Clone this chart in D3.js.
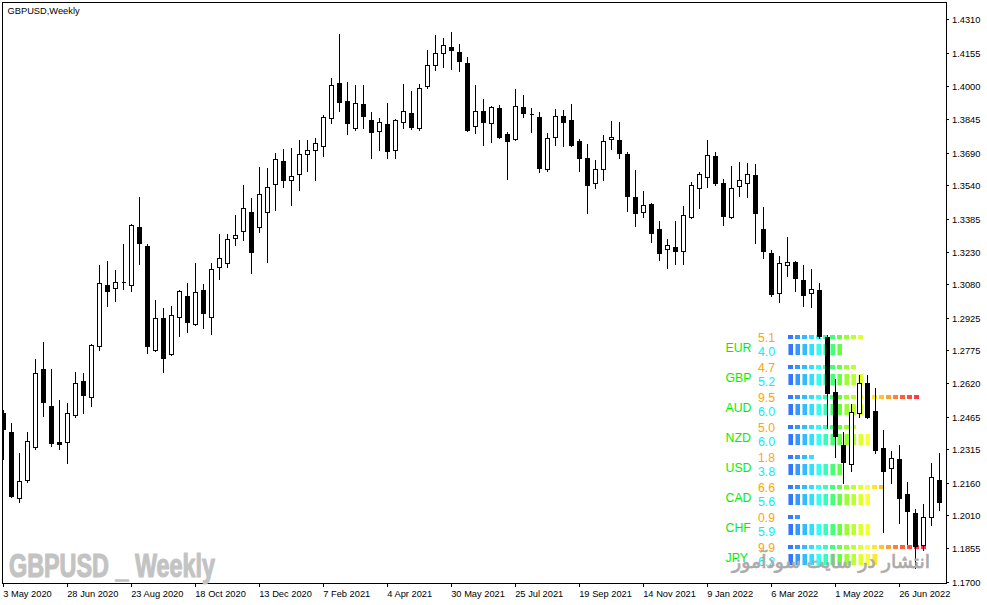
<!DOCTYPE html>
<html><head><meta charset="utf-8">
<script src="https://cdn.jsdelivr.net/npm/d3@7"></script>
<style>html,body{margin:0;padding:0;background:#fff;overflow:hidden}</style>
</head><body><svg id="c" width="987" height="605"></svg>
<script>
// ---- data (GBPUSD weekly, one entry per week starting 3 May 2020) ----
const opens = [1.2483,1.2395,1.2089,1.2172,1.2326,1.2687,1.2516,1.2349,1.2349,1.2474,
1.2632,1.2558,1.2794,1.3077,1.3063,1.3090,1.3077,1.3346,1.3258,1.2776,
1.2924,1.2757,1.2929,1.3026,1.2896,1.3054,1.2929,1.3161,1.3179,1.3295,
1.3328,1.3416,1.3346,1.3416,1.3546,1.3653,1.3564,1.3592,1.3685,1.3704,
1.3722,1.3852,1.4014,1.3931,1.3806,1.3917,1.3843,1.3792,1.3824,1.3704,
1.3834,1.3875,1.3806,1.4001,1.4098,1.4154,1.4182,1.4158,1.4107,1.3815,
1.3885,1.3829,1.3898,1.3778,1.3755,1.3903,1.3871,1.3857,1.3615,1.3764,
1.3861,1.3843,1.3745,1.3666,1.3550,1.3615,1.3755,1.3750,1.3685,1.3486,
1.3416,1.3453,1.3337,1.3244,1.3254,1.3235,1.3393,1.3527,1.3578,1.3676,
1.3550,1.3393,1.3537,1.3550,1.3588,1.3337,1.3226,1.3040,1.3170,1.3184,
1.3100,1.3040,1.3054,1.2836,1.2581,1.2335,1.2247,1.2485,1.2622,1.2493,
1.2321,1.2228,1.2270,1.2107,1.2019,1.1871,1.2001,1.2172];
const highs = [1.2497,1.2437,1.2298,1.2395,1.2734,1.2813,1.2687,1.2544,1.2530,1.2674,
1.2669,1.2802,1.3170,1.3189,1.3147,1.3267,1.3360,1.3486,1.3267,1.3008,
1.2970,1.2980,1.3052,1.3086,1.3179,1.3082,1.3179,1.3314,1.3314,1.3402,
1.3541,1.3481,1.3625,1.3619,1.3690,1.3708,1.3713,1.3750,1.3750,1.3759,
1.3866,1.4038,1.4242,1.4019,1.4005,1.4005,1.3880,1.3852,1.3922,1.3846,
1.4010,1.3977,1.4010,1.4168,1.4237,1.4223,1.4251,1.4195,1.4135,1.4005,
1.3940,1.3906,1.3912,1.3787,1.3987,1.3959,1.3898,1.3880,1.3782,1.3894,
1.3889,1.3917,1.3755,1.3731,1.3657,1.3773,1.3838,1.3834,1.3694,1.3611,
1.3513,1.3458,1.3374,1.3291,1.3374,1.3444,1.3555,1.3602,1.3750,1.3694,
1.3569,1.3629,1.3648,1.3643,1.3639,1.3439,1.3240,1.3212,1.3300,1.3186,
1.3170,1.3151,1.3086,1.2845,1.2641,1.2395,1.2525,1.2660,1.2660,1.2599,
1.2405,1.2305,1.2335,1.2163,1.2038,1.2061,1.2251,1.2298];
const lows = [1.2270,1.2094,1.2070,1.2163,1.2316,1.2469,1.2330,1.2316,1.2251,1.2465,
1.2483,1.2516,1.2776,1.2980,1.3003,1.3059,1.3049,1.3175,1.2762,1.2771,
1.2674,1.2752,1.2841,1.2859,1.2892,1.2878,1.2850,1.3105,1.3161,1.3263,
1.3286,1.3133,1.3323,1.3184,1.3425,1.3532,1.3448,1.3518,1.3606,1.3564,
1.3676,1.3829,1.3885,1.3778,1.3796,1.3806,1.3666,1.3704,1.3666,1.3666,
1.3806,1.3801,1.3796,1.3991,1.4075,1.4089,1.4079,1.4070,1.3792,1.3782,
1.3727,1.3741,1.3759,1.3569,1.3750,1.3857,1.3787,1.3602,1.3606,1.3727,
1.3722,1.3722,1.3606,1.3411,1.3527,1.3564,1.3708,1.3666,1.3421,1.3351,
1.3393,1.3277,1.3193,1.3156,1.3175,1.3175,1.3388,1.3435,1.3532,1.3541,
1.3356,1.3388,1.3490,1.3486,1.3272,1.3202,1.3026,1.2998,1.3119,1.3049,
1.2980,1.2975,1.2831,1.2414,1.2279,1.2158,1.2214,1.2465,1.2460,1.2298,
1.1931,1.2158,1.1973,1.1875,1.1764,1.1848,1.1964,1.2033];
const closes = [1.2409,1.2098,1.2168,1.2353,1.2669,1.2534,1.2344,1.2340,1.2483,1.2622,
1.2567,1.2799,1.3086,1.3049,1.3091,1.3093,1.3356,1.3272,1.2794,1.2924,
1.2738,1.2938,1.3049,1.2906,1.3045,1.2947,1.3151,1.3202,1.3291,1.3309,
1.3435,1.3230,1.3499,1.3532,1.3662,1.3564,1.3583,1.3685,1.3704,1.3736,
1.3857,1.4005,1.3926,1.3829,1.3922,1.3861,1.3787,1.3834,1.3699,1.3843,
1.3885,1.3810,1.3991,1.4098,1.4154,1.4191,1.4168,1.4117,1.3796,1.3885,
1.3834,1.3903,1.3764,1.3745,1.3908,1.3875,1.3869,1.3619,1.3759,1.3861,
1.3834,1.3727,1.3666,1.3541,1.3615,1.3745,1.3764,1.3690,1.3490,1.3411,
1.3448,1.3318,1.3226,1.3263,1.3235,1.3402,1.3541,1.3592,1.3680,1.3550,
1.3397,1.3527,1.3564,1.3592,1.3411,1.3235,1.3035,1.3179,1.3184,1.3110,
1.3031,1.3059,1.2841,1.2576,1.2377,1.2256,1.2488,1.2622,1.2465,1.2312,
1.2214,1.2274,1.2089,1.2029,1.1866,1.2001,1.2186,1.2070];

const dateTickIndex = [0,8,16,24,32,40,48,56,64,72,80,88,96,104,112];
const dateTickLabels = ["3 May 2020","28 Jun 2020","23 Aug 2020","18 Oct 2020","13 Dec 2020",
"7 Feb 2021","4 Apr 2021","30 May 2021","25 Jul 2021","19 Sep 2021","14 Nov 2021",
"9 Jan 2022","6 Mar 2022","1 May 2022","26 Jun 2022"];
const priceTicks = [1.4310,1.4155,1.4000,1.3845,1.3690,1.3540,1.3385,1.3230,1.3080,
1.2925,1.2775,1.2620,1.2465,1.2315,1.2160,1.2010,1.1855,1.1700];

const currencies = ["EUR","GBP","AUD","NZD","USD","CAD","CHF","JPY"];
const strengthTop = [5.1,4.7,9.5,5.0,1.8,6.6,0.9,9.9];
const strengthBottom = [4.0,5.2,6.0,6.0,3.8,5.6,5.9,6.2];

// ---- styles ----
const segColors = ["#3377FF","#3399FF","#33BBFF","#33DDFF","#33FFF0","#33FFBB","#44FF77","#66FF44",
"#99FF33","#BBFF33","#DDFF33","#F8FF33","#FFE633","#FFC233","#FFA033","#FF8033","#FF6033",
"#FF4A40","#FF3A48","#FF3358"];
const smallFont = "Liberation Sans, Arial, sans-serif";

const svg = d3.select("#c");
svg.append("rect").attr("width",987).attr("height",605).attr("fill","#fff");

const n = opens.length;
const x = d3.scaleLinear().domain([0, n-1]).range([3, 3 + 8*(n-1)]);
const y = d3.scaleLinear().domain([1.1700, 1.4310]).range([581.7, 19.3]);
const yr = y.copy().interpolate(d3.interpolateRound);

// clip
svg.append("clipPath").attr("id","plot").append("rect")
  .attr("x",3).attr("y",3).attr("width",943).attr("height",580);

// ---- strength panel (behind candles) ----
const seg = d3.scaleLinear().domain([0,10]).range([0,20]);
const panel = svg.append("g");
currencies.forEach((c,k)=>{
  const rowY = 30*k;
  panel.append("text").attr("x",725.5).attr("y",352.3+rowY)
    .attr("font-family",smallFont).attr("font-size","12.3px").attr("fill","#00F000").text(c);
  panel.append("text").attr("x",758).attr("y",341.7+rowY)
    .attr("font-family",smallFont).attr("font-size","12.3px").attr("fill","#FFA500")
    .text(strengthTop[k].toFixed(1));
  panel.append("text").attr("x",758).attr("y",355.7+rowY)
    .attr("font-family",smallFont).attr("font-size","12.3px").attr("fill","#00F0FF")
    .text(strengthBottom[k].toFixed(1));
  const nTop = Math.ceil(seg(strengthTop[k]) - 1e-9);
  const nBot = Math.ceil(seg(strengthBottom[k]) - 1e-9);
  panel.selectAll(null).data(d3.range(nTop)).enter().append("rect")
    .attr("x",j=>788+7*j).attr("y",335+rowY).attr("width",5).attr("height",4)
    .attr("fill",j=>segColors[j]).attr("shape-rendering","crispEdges");
  panel.selectAll(null).data(d3.range(nBot)).enter().append("rect")
    .attr("x",j=>788+7*j).attr("y",344+rowY).attr("width",5).attr("height",11)
    .attr("fill",j=>segColors[j]).attr("shape-rendering","crispEdges");
  panel.selectAll(null).data(d3.range(nBot)).enter().append("rect")
    .attr("x",j=>788+7*j).attr("y",344+rowY).attr("width",1).attr("height",11)
    .attr("fill",j=>d3.interpolateRgb(segColors[j],"#ffffff")(0.45)).attr("shape-rendering","crispEdges");
});

// ---- candles ----
const cg = svg.append("g").attr("clip-path","url(#plot)");
const idx = d3.range(n);
cg.selectAll("line.w").data(idx).enter().append("line")
  .attr("x1",i=>x(i)+0.5).attr("x2",i=>x(i)+0.5)
  .attr("y1",i=>yr(highs[i])).attr("y2",i=>yr(lows[i])+1)
  .attr("stroke","#000").attr("stroke-width",1).attr("shape-rendering","crispEdges");
cg.selectAll("path.b").data(idx).enter().append("path")
  .attr("d",i=>{
    const top = yr(Math.max(opens[i],closes[i]));
    const bot = yr(Math.min(opens[i],closes[i]));
    return `M${x(i)-1.5},${top+0.5}h4v${bot-top}h-4z`;
  })
  .attr("fill",i=>closes[i]>=opens[i]?"#fff":"#000")
  .attr("stroke","#000").attr("stroke-width",1).attr("shape-rendering","crispEdges");

// ---- frame ----
svg.append("rect").attr("x",2.5).attr("y",2.5).attr("width",944).attr("height",581)
  .attr("fill","none").attr("stroke","#000").attr("shape-rendering","crispEdges");

// ---- price axis ----
const ya = svg.append("g").attr("transform","translate(946,0)")
  .call(d3.axisRight(yr).tickValues(priceTicks).tickSize(3).tickPadding(3)
    .tickFormat(d3.format(".4f")));
ya.select(".domain").remove();
ya.selectAll("line").attr("stroke","#000").attr("shape-rendering","crispEdges");
ya.selectAll("text").attr("font-family",smallFont).attr("font-size","9.3px").attr("fill","#000")
  .attr("x",6).attr("dy","0.35em");

// ---- time axis ----
const xa = svg.append("g").attr("transform","translate(0,583)")
  .call(d3.axisBottom(x).tickValues(dateTickIndex).tickSize(4).tickFormat((d,i)=>dateTickLabels[i]));
xa.select(".domain").remove();
xa.selectAll("line").attr("stroke","#000").attr("shape-rendering","crispEdges");
xa.selectAll("text").attr("font-family",smallFont).attr("font-size","9.3px").attr("fill","#000")
  .attr("text-anchor","start").attr("x",-0.3).attr("y",14).attr("dy",0);

// ---- title ----
svg.append("text").attr("x",7.5).attr("y",14.3).attr("font-family",smallFont)
  .attr("font-size","9.3px").attr("fill","#000").text("GBPUSD,Weekly");

// ---- watermarks ----
svg.append("text").attr("x",9).attr("y",576.7)
  .attr("font-family","Liberation Sans Narrow, Liberation Sans, Arial, sans-serif")
  .attr("font-weight","bold").attr("font-size","33px").attr("fill","#C3C3C3")
  .attr("stroke","#C3C3C3").attr("stroke-width",1.2).attr("stroke-linejoin","round")
  .attr("textLength",206).attr("lengthAdjust","spacingAndGlyphs").text("GBPUSD _ Weekly");
svg.append("text").attr("x",831).attr("y",568).attr("text-anchor","middle")
  .attr("font-family","DejaVu Sans, sans-serif")
  .attr("font-size","19px").attr("fill","#ABABAB")
  .attr("stroke","#ABABAB").attr("stroke-width",0.7).attr("stroke-linejoin","round")
  .attr("textLength",198).attr("lengthAdjust","spacingAndGlyphs")
  .text("انتشار در سایت سودآموز");
</script></body></html>
